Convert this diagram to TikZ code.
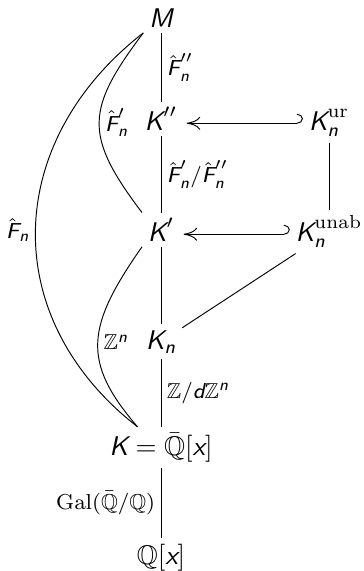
\documentclass[tikz,border=0pt]{standalone}
\usepackage{amsmath,amssymb}
\usetikzlibrary{arrows.meta}
\newcommand{\sv}[1]{\text{\sffamily\itshape #1}}
\begin{document}
\begin{tikzpicture}[x=0.37pt,y=-0.37pt, line width=0.35pt,
  obj/.style={inner sep=2pt, anchor=base},
  lab/.style={font=\fontsize{8}{9.6}\selectfont, inner sep=2pt},
  hk/.style={{Hooks[left,width=7pt,length=2.2pt]}-{Computer Modern Rightarrow[length=5pt,width=4.8pt]}, shorten >=1.3pt}
]
\useasboundingbox (0,0) rectangle (363,571);
\node[obj] (m) at (161,27) {$\sv M$};
\node[obj] (kpp) at (161,130) {$\sv K''$};
\node[obj] (kur) at (329,130) {$\sv K_{\sv n}^{\mathrm{ur}}$};
\node[obj] (kp) at (161,241) {$\sv K'$};
\node[obj] (kun) at (329,241) {$\sv K_{\sv n}^{\mathrm{unab}}$};
\node[obj] (kn) at (161,349) {$\sv K_{\sv n}$};
\node[obj] (k) at (161,455) {$\sv K=\bar{\mathbb Q}[\sv x]$};
\node[obj] (q) at (161,564) {$\mathbb Q[\sv x]$};

\draw (m) -- node[lab,right] {$\hat{\sv F}''_{\sv n}$} (kpp);
\draw (kpp) -- node[lab,right] {$\hat{\sv F}'_{\sv n}/\hat{\sv F}''_{\sv n}$} (kp);
\draw (kp) -- (kn);
\draw (kn) -- node[lab,right] {$\mathbb Z/\sv d\mathbb Z^{\sv n}$} (k);
\draw (k) -- node[lab,left] {$\mathrm{Gal}(\bar{\mathbb Q}/\mathbb Q)$} (q);
\draw[hk] ([yshift=2.5pt]kur.base west) -- ([yshift=2.5pt]kpp.base east);
\draw[hk] ([yshift=2.5pt]kun.base west) -- ([yshift=2.5pt]kp.base east);
\draw (kur) -- (kun);
\draw (kun) -- (kn);
\draw (m.south west) .. controls +(-58,77) and +(-58,-77) .. node[lab,right,pos=0.5] {$\hat{\sv F}'_{\sv n}$} (kp.north west);
\draw (m.south west) .. controls +(-140,109) and +(-140,-109) .. node[lab,left,pos=0.5] {$\hat{\sv F}_{\sv n}$} (k.139);
\draw (kp.south west) .. controls +(-56,80) and +(-56,-65) .. node[lab,right,pos=0.5] {$\mathbb Z^{\sv n}$} (k.139);
\end{tikzpicture}
\end{document}
